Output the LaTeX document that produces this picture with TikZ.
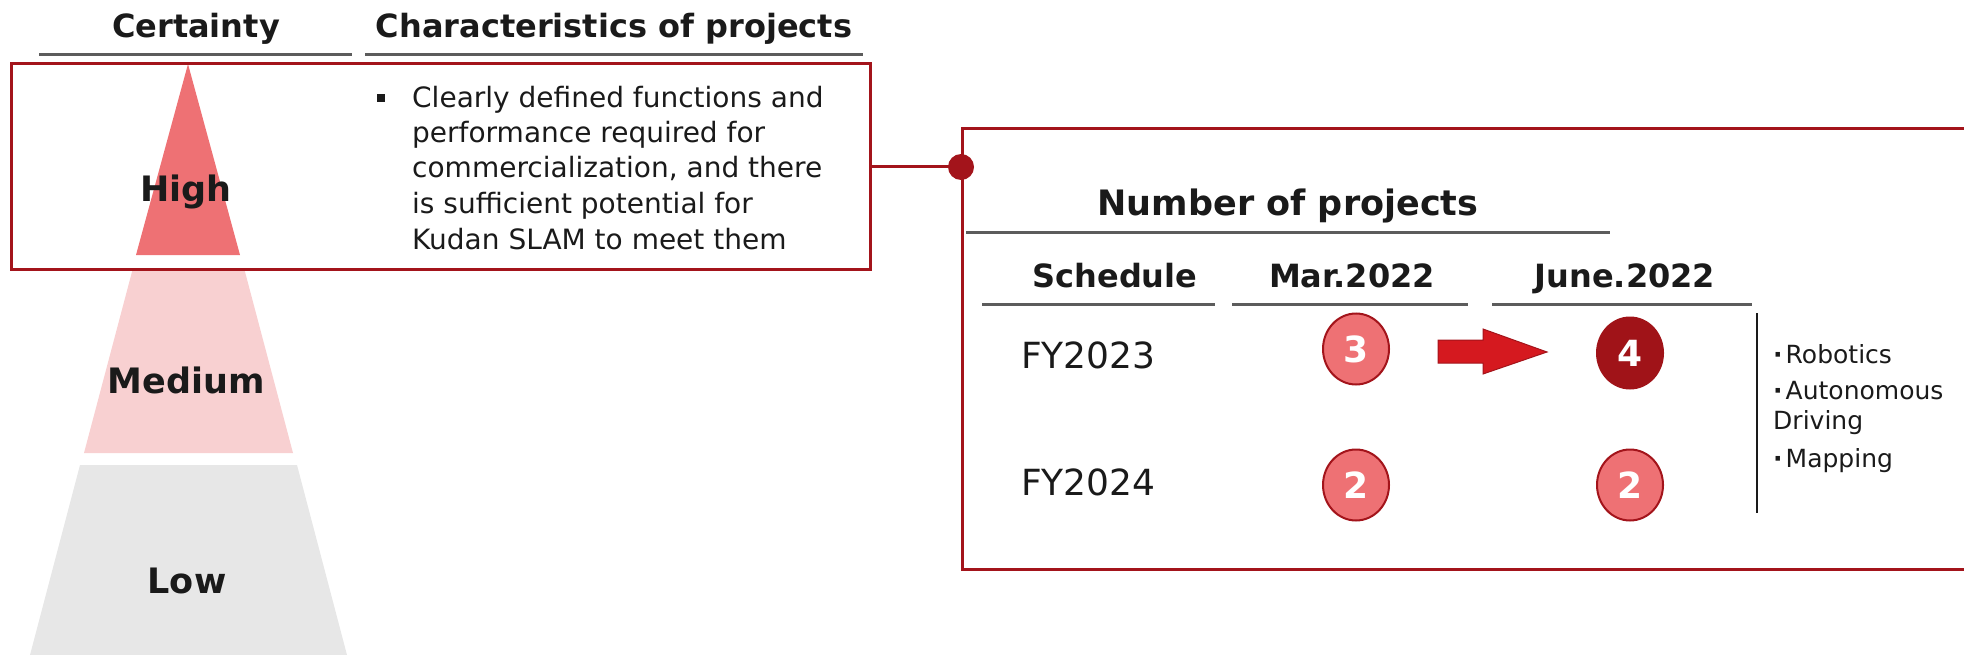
\documentclass[tikz,border=0pt]{standalone}
\usepackage{fontspec}
\setmainfont{DejaVu Sans}
\usetikzlibrary{shapes.geometric}
\definecolor{boxred}{HTML}{A3141B}
\definecolor{hired}{HTML}{EE7174}
\definecolor{medpink}{HTML}{F8D0D1}
\definecolor{lowgray}{HTML}{E7E7E7}
\definecolor{ulgray}{HTML}{5C5C5C}
\definecolor{txt}{HTML}{1A1A1A}
\definecolor{arrred}{HTML}{D5191F}
\definecolor{darkcirc}{HTML}{A01318}
\begin{document}
\begin{tikzpicture}[x=1pt,y=-1pt,
  hdr/.style={font=\fontsize{32}{38}\selectfont\bfseries, text=txt, anchor=base, inner sep=0pt},
  tier/.style={font=\fontsize{35}{40}\selectfont\bfseries, text=txt, anchor=base, inner sep=0pt},
  body/.style={font=\fontsize{28}{34}\selectfont, text=txt, anchor=base west, inner sep=0pt},
  fy/.style={font=\fontsize{36}{40}\selectfont, text=txt, anchor=base west, inner sep=0pt},
  lst/.style={font=\fontsize{25}{30}\selectfont, text=txt, anchor=base west, inner sep=0pt},
  uline/.style={ulgray, line width=3pt},
  redbox/.style={draw=boxred, line width=3pt, inner sep=0pt, anchor=north west},
  numc/.style={ellipse, draw=boxred, line width=2pt, fill=hired, minimum width=66pt, minimum height=71pt, inner sep=0pt, text=white, font=\fontsize{36}{40}\selectfont\bfseries},
  numd/.style={numc, fill=darkcirc, draw=darkcirc}
]
\useasboundingbox (0,0) rectangle (1964,655);
% headers
\node[hdr] (hcert) at (196,38) {Certainty};
\node[hdr] (hchar) at (614,38) {Characteristics of projects};
\draw[uline] (39,55) -- (352,55);
\draw[uline] (365,55) -- (863,55);
% pyramid
\fill[lowgray] (80,465) -- (297,465) -- (347,655) -- (30,655) -- cycle;
\fill[medpink] (133,268) -- (244,268) -- (293,453) -- (84,453) -- cycle;
\fill[hired] (188,64) -- (240,255) -- (136,255) -- cycle;
\node[tier] (thigh) at (186,202) {High};
\node[tier] (tmed) at (186,393) {Medium};
\node[tier] (tlow) at (187,593) {Low};
% left box
\node[redbox, minimum width=859pt, minimum height=206pt] (lbox) at (10,62) {};
\fill[txt] (377,94) rectangle (385,102);
\node[body] (b1) at (412,108) {Clearly defined functions and};
\node[body] (b2) at (412,143) {performance required for};
\node[body] (b3) at (412,178) {commercialization, and there};
\node[body] (b4) at (412,213) {is sufficient potential for};
\node[body] (b5) at (412,249) {Kudan SLAM to meet them};
% right box
\node[redbox, minimum width=1100pt, minimum height=441pt] (rbox) at (961,127) {};
\node[circle, fill=boxred, minimum size=26pt, inner sep=0pt] (dot) at (961,167) {};
\draw[boxred, line width=3pt] (lbox.east |- dot) -- (dot.center);
\node[hdr, font=\fontsize{35}{40}\selectfont\bfseries] (nproj) at (1288,215) {Number of projects};
\draw[uline] (966,232) -- (1610,232);
\node[hdr] (hsch) at (1115,287) {Schedule};
\node[hdr] (hmar) at (1352,287) {Mar.2022};
\node[hdr] (hjun) at (1625,287) {June.2022};
\draw[uline] (982,304) -- (1215,304);
\draw[uline] (1232,304) -- (1468,304);
\draw[uline] (1492,304) -- (1752,304);
\node[fy] (fy23) at (1021,368) {FY2023};
\node[fy] (fy24) at (1021,495) {FY2024};
\node[numc] (c3) at (1356,349) {3};
\node[numd] (c4) at (1630,353) {4};
\node[numc] (c2a) at (1356,485) {2};
\node[numc] (c2b) at (1630,485) {2};
\filldraw[fill=arrred, draw=boxred, line width=1pt] (1438,340) -- (1483,340) -- (1483,329) -- (1547,352) -- (1483,374) -- (1483,363) -- (1438,363) -- cycle;
\draw[txt, line width=2pt] (1757,313) -- (1757,513);
\node[lst] (l1) at (1773,363) {{\bfseries ·}\kern3pt Robotics};
\node[lst] (l2) at (1773,399) {{\bfseries ·}\kern3pt Autonomous};
\node[lst] (l3) at (1773,429) {Driving};
\node[lst] (l4) at (1773,467) {{\bfseries ·}\kern3pt Mapping};
\end{tikzpicture}
\end{document}
